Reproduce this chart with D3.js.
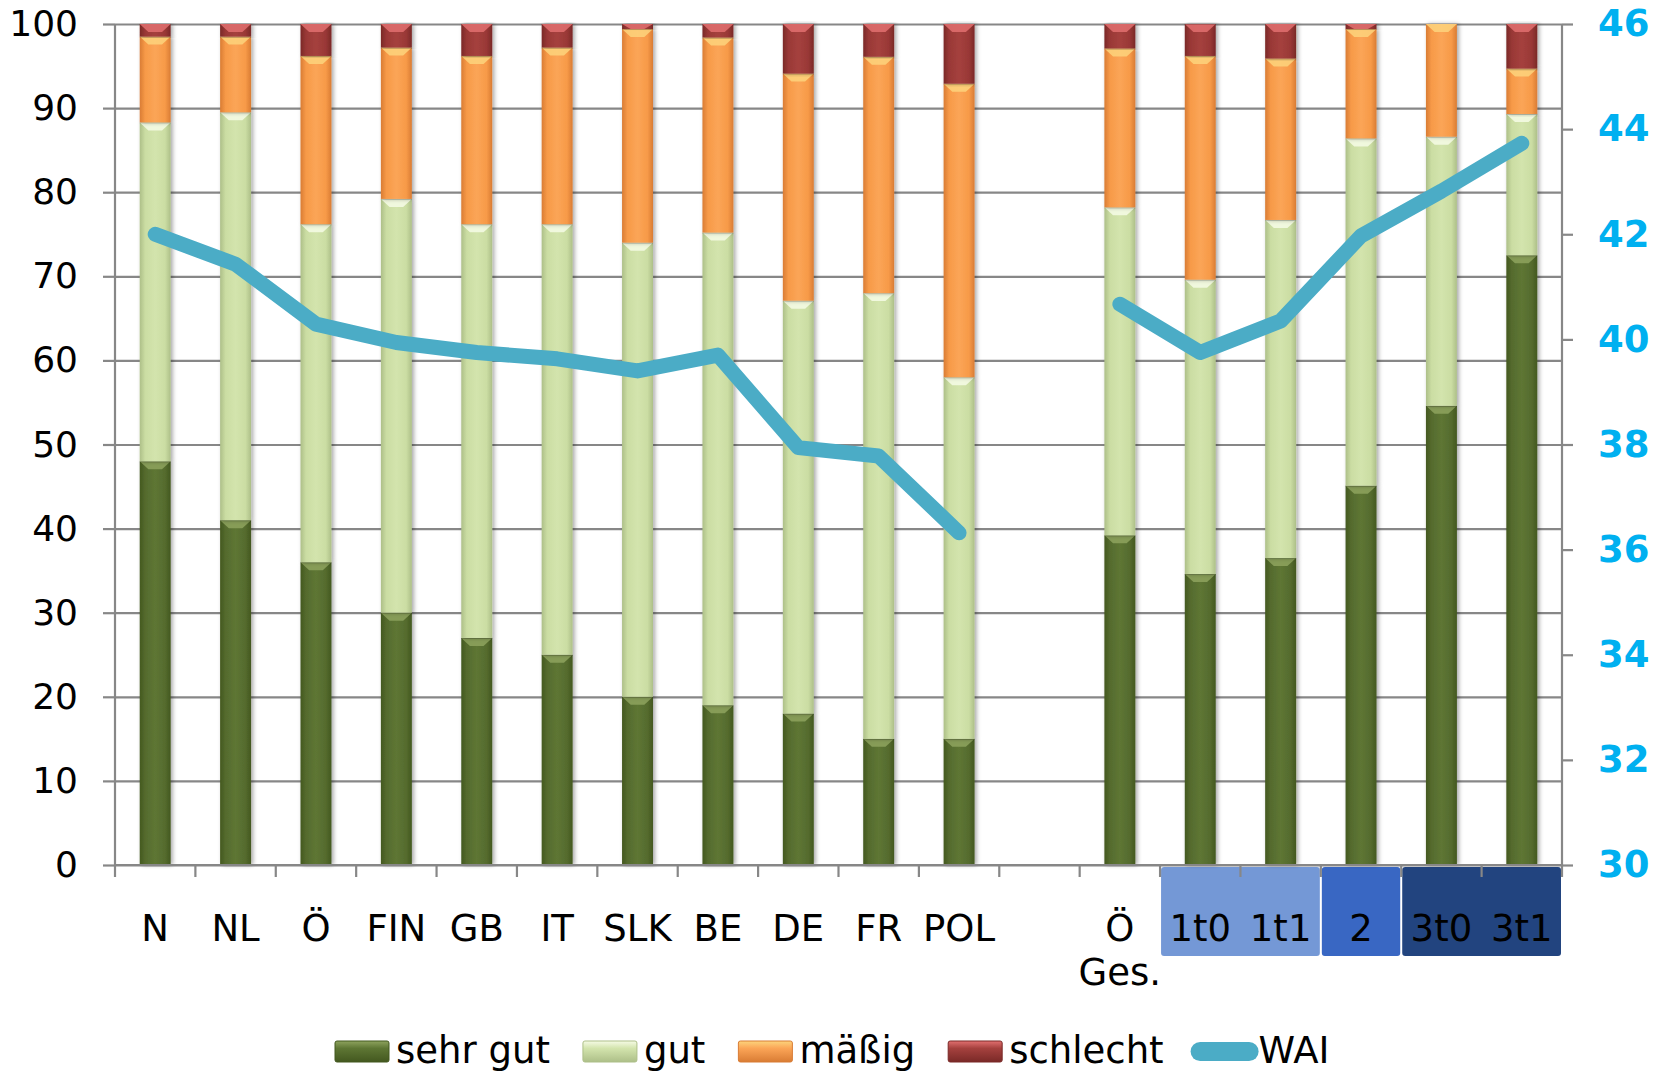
<!DOCTYPE html>
<html><head><meta charset="utf-8">
<script src="https://cdn.jsdelivr.net/npm/d3@7"></script>
<style>
body{margin:0;background:#fff}
svg{display:block}
text{font-family:"DejaVu Sans",Verdana,sans-serif}
</style>
</head><body>
<svg id="c" width="1667" height="1074"></svg>
<script>
// ---------- data ----------
const categories = ["N","NL","Ö","FIN","GB","IT","SLK","BE","DE","FR","POL","","Ö\nGes.","1t0","1t1","2","3t0","3t1"];
const sehrGut  = [48, 41, 36, 30, 27, 25, 20, 19, 18, 15, 15, null, 39.2, 34.6, 36.5, 45.1, 54.6, 72.5];
const gut      = [40.3, 48.5, 40.2, 49.2, 49.2, 51.2, 54, 56.2, 49.1, 53, 43, null, 39, 35, 40.2, 41.3, 32, 16.8];
const maessig  = [10.2, 9, 20, 18, 20, 21, 25.4, 23.2, 27, 28.1, 34.9, null, 18.9, 26.6, 19.2, 13, 13.4, 5.4];
const schlecht = [1.5, 1.5, 3.8, 2.8, 3.8, 2.8, 0.6, 1.6, 5.9, 3.9, 7.1, null, 2.9, 3.8, 4.1, 0.6, 0, 5.3];
const wai      = [42.0, 41.43, 40.29, 39.94, 39.75, 39.63, 39.4, 39.7, 37.94, 37.78, 36.32, null, 40.67, 39.75, 40.35, 41.97, 42.82, 43.73];
const leftTicks  = [0,10,20,30,40,50,60,70,80,90,100];
const rightTicks = [30,32,34,36,38,40,42,44,46];
const seriesNames = ["sehr gut","gut","mäßig","schlecht"];
const lineName = "WAI";
const categoryGroups = [[13,14],[15],[16,17]];

// ---------- styles ----------
const seriesStyle = [
  {dark:"#43581f", base:"#556b2e", light:"#5e7634", hi:"#8ea35e"},
  {dark:"#adbf88", base:"#cbdda3", light:"#d3e4ad", hi:"#f6fbe6"},
  {dark:"#d97c34", base:"#f79a48", light:"#fba557", hi:"#fdd47c"},
  {dark:"#7a2927", base:"#993836", light:"#a5413e", hi:"#e27070"}
];
const groupColors = ["#7498d6","#3967c3","#22447f"];
const lineColor = "#4bacc6";
const gridColor = "#878787";

const plot = {l:115, r:1562, t:24, b:865};

const svg = d3.select("#c");
const defs = svg.append("defs");

seriesStyle.forEach((s,k)=>{
  const g = defs.append("linearGradient").attr("id","bg"+k).attr("x1","0").attr("x2","1").attr("y1","0").attr("y2","0");
  [[0,s.dark],[0.18,s.base],[0.5,s.light],[0.82,s.base],[1,s.dark]].forEach(([o,c])=>g.append("stop").attr("offset",o).attr("stop-color",c));
  const lg = defs.append("linearGradient").attr("id","lg"+k).attr("x1","0").attr("x2","0").attr("y1","0").attr("y2","1");
  [[0,s.hi],[0.35,s.light],[1,s.dark]].forEach(([o,c])=>lg.append("stop").attr("offset",o).attr("stop-color",c));
});
const f = defs.append("filter").attr("id","sh").attr("x","-50%").attr("y","-5%").attr("width","200%").attr("height","110%");
f.append("feDropShadow").attr("dx",2).attr("dy",0).attr("stdDeviation",2.2).attr("flood-color","#000").attr("flood-opacity",0.35);

// ---------- scales ----------
const idx = d3.range(categories.length);
const x = d3.scaleBand().domain(idx).range([plot.l, plot.r]).padding(0);
const bw = x.bandwidth();
const barW = bw*0.385;
const y = d3.scaleLinear().domain([0,100]).range([plot.b, plot.t]);
const y2 = d3.scaleLinear().domain([30,46]).range([plot.b, plot.t]);

// ---------- gridlines ----------
const grid = svg.append("g").attr("transform",`translate(${plot.l},0)`)
  .call(d3.axisLeft(y).tickValues(leftTicks).tickSize(-(plot.r-plot.l)).tickFormat(""));
grid.select(".domain").remove();
grid.selectAll("line").attr("stroke",gridColor).attr("stroke-width",2.2);

// ---------- category label boxes ----------
svg.append("g").selectAll("rect").data(categoryGroups).join("rect")
  .attr("x",d=>x(d[0])+1)
  .attr("y",plot.b+2)
  .attr("width",d=>x(d[d.length-1])+bw-x(d[0])-2)
  .attr("height",89)
  .attr("rx",3)
  .attr("fill",(d,i)=>groupColors[i]);

// ---------- bars ----------
const rows = idx.filter(i=>sehrGut[i]!=null).map(i=>({i, a:sehrGut[i], b:gut[i], c:maessig[i], d:schlecht[i]}));
const stack = d3.stack().keys(["a","b","c","d"])(rows);
const barsG = svg.append("g");
stack.forEach((layer,k)=>{
  const g = barsG.append("g");
  g.selectAll("rect").data(layer.filter(d=>d[1]-d[0]>0)).join("rect")
    .attr("x",d=>x(d.data.i)+(bw-barW)/2)
    .attr("y",d=>y(d[1]))
    .attr("width",barW)
    .attr("height",d=>y(d[0])-y(d[1]))
    .attr("fill",`url(#bg${k})`)
    .attr("filter","url(#sh)");
  g.selectAll("path").data(layer.filter(d=>y(d[0])-y(d[1])>3)).join("path")
    .attr("d",d=>{
      const x0 = x(d.data.i)+(bw-barW)/2, x1 = x0+barW, yt = y(d[1]);
      const h = Math.min(8, y(d[0])-y(d[1]));
      const ins = barW*0.28;
      return `M${x0},${yt}L${x1},${yt}L${x1-ins},${yt+h}L${x0+ins},${yt+h}Z`;
    })
    .attr("fill",seriesStyle[k].hi).attr("opacity",0.85);
  g.selectAll("line").data(layer.filter(d=>d[1]-d[0]>0 && d[1]<100)).join("line")
    .attr("x1",d=>x(d.data.i)+(bw-barW)/2).attr("x2",d=>x(d.data.i)+(bw+barW)/2)
    .attr("y1",d=>y(d[1])+0.5).attr("y2",d=>y(d[1])+0.5)
    .attr("stroke","rgba(0,0,0,0.18)").attr("stroke-width",1);
});

// ---------- axes ----------
const axL = svg.append("g").attr("transform",`translate(${plot.l},0)`)
  .call(d3.axisLeft(y).tickValues(leftTicks).tickSize(12).tickPadding(25).tickFormat(d3.format("d")));
axL.select(".domain").attr("stroke",gridColor).attr("stroke-width",2.2).attr("d",`M-0,${plot.t}V${plot.b}`);
axL.selectAll(".tick line").attr("stroke",gridColor).attr("stroke-width",2.2);
axL.selectAll("text").attr("font-size",36).attr("fill","#000").attr("font-family","DejaVu Sans");

const axR = svg.append("g").attr("transform",`translate(${plot.r},0)`)
  .call(d3.axisRight(y2).tickValues(rightTicks).tickSize(11).tickPadding(25).tickFormat(d3.format("d")));
axR.select(".domain").attr("stroke",gridColor).attr("stroke-width",2.2).attr("d",`M0,${plot.t}V${plot.b}`);
axR.selectAll(".tick line").attr("stroke",gridColor).attr("stroke-width",2.2);
axR.selectAll("text").attr("font-size",37).attr("font-weight","bold").attr("fill","#00b0f0").attr("font-family","DejaVu Sans");

const bounds = idx.map(i=>x(i)).concat([plot.r]);
const axB = svg.append("g");
axB.append("line").attr("x1",plot.l).attr("x2",plot.r).attr("y1",plot.b).attr("y2",plot.b).attr("stroke",gridColor).attr("stroke-width",2.2);
axB.selectAll("line.tk").data(bounds).join("line").attr("class","tk")
  .attr("x1",d=>d).attr("x2",d=>d).attr("y1",plot.b).attr("y2",plot.b+12)
  .attr("stroke",gridColor).attr("stroke-width",2.2);

const lab = svg.append("g").selectAll("text").data(idx).join("text")
  .attr("x",i=>x(i)+bw/2).attr("y",941)
  .attr("text-anchor","middle").attr("font-size",37).attr("fill","#000");
lab.each(function(i){
  const parts = categories[i].split("\n");
  d3.select(this).selectAll("tspan").data(parts).join("tspan")
    .attr("x",x(i)+bw/2).attr("dy",(d,j)=>j===0?0:44).text(d=>d);
});

// ---------- WAI line ----------
const line = d3.line().defined(d=>d!=null).x((d,i)=>x(i)+bw/2).y(d=>y2(d));
svg.append("path").datum(wai).attr("d",line)
  .attr("fill","none").attr("stroke",lineColor).attr("stroke-width",15)
  .attr("stroke-linecap","round").attr("stroke-linejoin","round");

// ---------- legend ----------
const leg = svg.append("g");
let lx = 335;
const ly = 1041, lh = 21, baseY = 1063;
seriesNames.forEach((n,k)=>{
  leg.append("rect").attr("x",lx).attr("y",ly).attr("width",54).attr("height",lh).attr("rx",2)
    .attr("fill",`url(#lg${k})`).attr("stroke",seriesStyle[k].dark).attr("stroke-width",1);
  const t = leg.append("text").attr("x",lx+61).attr("y",baseY).attr("font-size",37).attr("fill","#000").text(n);
  lx = lx+61+t.node().getComputedTextLength()+33;
});
leg.append("rect").attr("x",lx-6).attr("y",1042).attr("width",68).attr("height",19).attr("rx",9.5).attr("fill",lineColor);
leg.append("text").attr("x",lx+62).attr("y",baseY).attr("font-size",37).attr("fill","#000").text(lineName);
</script>
</body></html>
